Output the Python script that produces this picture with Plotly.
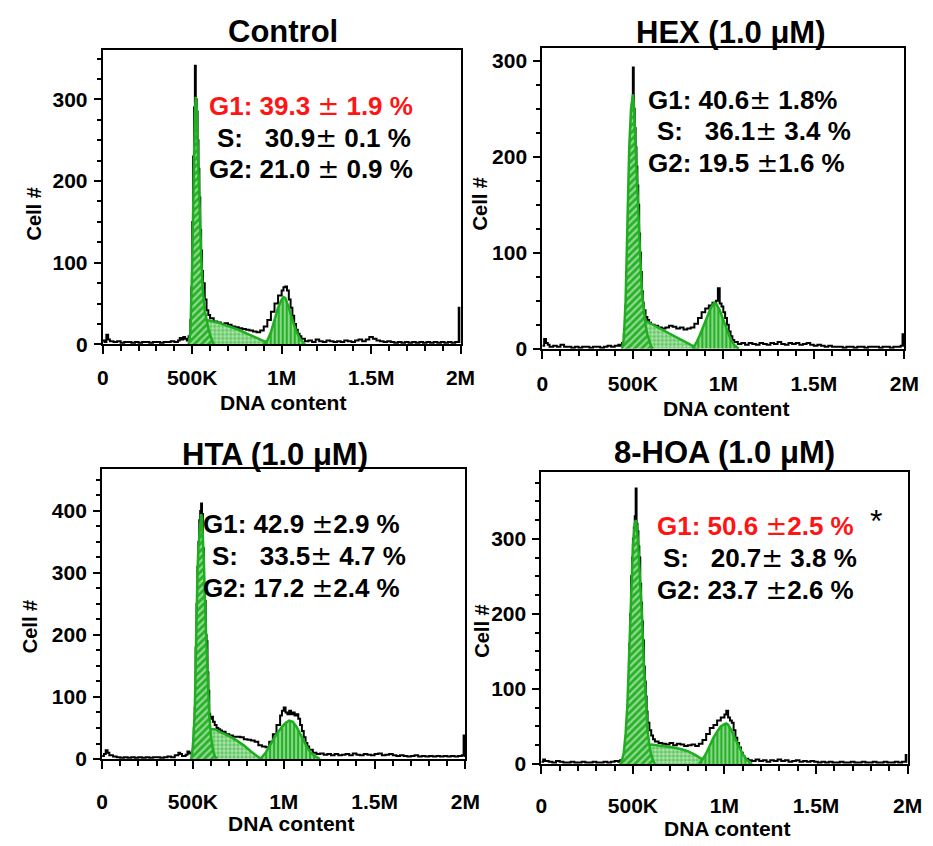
import plotly.graph_objects as go

GREEN = "#1fae1f"
RED = "#ff1414"
FONT = "Liberation Sans, Arial, sans-serif"

# ---------------- data (x in K units of DNA content, y = cell count) ----------------
tick_vals = [0, 500, 1000, 1500, 2000]
tick_text = ["0", "500K", "1M", "1.5M", "2M"]

titles = ["Control", "HEX (1.0 μM)", "HTA (1.0 μM)", "8-HOA (1.0 μM)"]

# Control histogram
ctrl_x = [
    0, 10, 20, 30, 40, 60, 80, 100, 120, 140,
    160, 180, 200, 220, 240, 260, 280, 300, 320, 340,
    360, 380, 400, 420, 430, 440, 450, 460, 470, 480,
    490, 495, 500, 505, 510, 515, 520, 525, 530, 535,
    540, 545, 550, 555, 560, 570, 580, 590, 600, 620,
    640, 660, 680, 700, 720, 740, 760, 780, 800, 820,
    840, 860, 880, 900, 920, 940, 960, 980, 1000, 1010,
    1020, 1030, 1040, 1050, 1060, 1070, 1080, 1090, 1100, 1110,
    1130, 1150, 1170, 1190, 1210, 1230, 1250, 1270, 1290, 1310,
    1330, 1350, 1370, 1390, 1410, 1430, 1450, 1470, 1490, 1510,
    1530, 1550, 1570, 1590, 1610, 1630, 1650, 1670, 1690, 1710,
    1730, 1750, 1770, 1790, 1810, 1830, 1850, 1870, 1890, 1910,
    1930, 1950, 1970, 1985, 1990, 1995, 2000]
ctrl_y = [
    5, 3, 12, 6, 4, 3, 4, 2, 3, 3,
    2, 3, 2, 3, 3, 2, 3, 3, 2, 3,
    3, 4, 3, 5, 8, 6, 9, 7, 5, 10,
    30, 70, 150, 230, 290, 341, 300, 285, 250, 215,
    180, 140, 115, 90, 75, 55, 42, 36, 32, 28,
    27, 25, 26, 24, 22, 21, 20, 19, 18, 17,
    16, 15, 17, 22, 30, 40, 50, 60, 66, 70,
    71, 66, 55, 45, 35, 25, 18, 13, 10, 7,
    4, 5, 3, 6, 4, 3, 5, 4, 3, 4,
    3, 5, 4, 3, 5, 6, 4, 6, 9, 7,
    5, 4, 3, 4, 3, 2, 3, 2, 3, 2,
    3, 2, 3, 2, 3, 2, 3, 2, 3, 2,
    3, 2, 3, 3, 45, 3, 3]
ctrl_g1_x = [480, 490, 500, 505, 510, 515, 520, 525, 530, 535, 540, 545, 550, 555, 560, 570, 580, 590, 600, 610, 620]
ctrl_g1_y = [0, 15, 100, 170, 240, 285, 303, 290, 250, 210, 175, 140, 110, 85, 65, 42, 30, 20, 12, 6, 0]
ctrl_s_x = [500, 520, 540, 560, 580, 600, 640, 680, 720, 760, 800, 840, 880, 920, 940]
ctrl_s_y = [0, 10, 22, 28, 30, 29, 27, 24, 21, 18, 14, 10, 6, 2, 0]
ctrl_g2_x = [900, 920, 940, 960, 980, 1000, 1010, 1020, 1040, 1060, 1080, 1100, 1120, 1130]
ctrl_g2_y = [0, 5, 15, 30, 45, 55, 58, 57, 45, 30, 17, 8, 3, 0]

# HEX histogram
hex_x = [
    0, 10, 20, 30, 40, 60, 80, 100, 120, 140,
    160, 180, 200, 220, 240, 260, 280, 300, 320, 340,
    360, 380, 400, 420, 430, 440, 450, 460, 465, 470,
    475, 480, 485, 490, 495, 500, 505, 510, 515, 520,
    525, 530, 535, 540, 545, 550, 555, 560, 570, 580,
    590, 600, 620, 640, 660, 680, 700, 720, 740, 760,
    780, 800, 820, 840, 860, 880, 900, 920, 940, 960,
    970, 980, 990, 1000, 1010, 1020, 1030, 1040, 1050, 1060,
    1080, 1100, 1120, 1140, 1160, 1180, 1200, 1220, 1240, 1260,
    1280, 1300, 1320, 1340, 1360, 1380, 1400, 1420, 1440, 1460,
    1480, 1500, 1520, 1540, 1560, 1580, 1600, 1620, 1640, 1660,
    1680, 1700, 1720, 1740, 1760, 1780, 1800, 1820, 1840, 1860,
    1880, 1900, 1920, 1940, 1960, 1980, 1990, 1995, 2000]
hex_y = [
    3, 10, 6, 4, 2, 3, 2, 4, 2, 2,
    1, 2, 1, 2, 2, 1, 2, 2, 1, 2,
    3, 2, 3, 4, 3, 6, 15, 45, 80, 115,
    140, 180, 220, 245, 255, 293, 250, 230, 210, 190,
    170, 150, 120, 100, 80, 60, 48, 40, 33, 30,
    27, 25, 24, 22, 21, 22, 24, 23, 21, 22,
    20, 21, 22, 26, 32, 38, 42, 45, 48, 50,
    63, 47, 44, 38, 32, 25, 18, 13, 9, 7,
    5, 6, 4, 6, 5, 4, 6, 5, 4, 6,
    5, 7, 5, 4, 6, 5, 6, 4, 5, 6,
    4, 3, 4, 3, 2, 3, 2, 2, 2, 1,
    2, 2, 1, 2, 2, 1, 2, 2, 2, 1,
    2, 2, 1, 2, 2, 3, 15, 3, 3]
hex_g1_x = [440, 450, 460, 470, 480, 490, 495, 500, 505, 510, 520, 530, 540, 550, 560, 570, 580, 590, 600, 610]
hex_g1_y = [0, 10, 50, 130, 210, 250, 262, 265, 255, 230, 185, 150, 100, 60, 38, 25, 15, 8, 3, 0]
hex_s_x = [460, 480, 500, 520, 540, 560, 580, 600, 640, 680, 720, 760, 800, 840, 860]
hex_s_y = [0, 8, 15, 22, 26, 28, 28, 26, 22, 18, 14, 10, 6, 2, 0]
hex_g2_x = [830, 850, 870, 890, 910, 930, 950, 960, 980, 1000, 1020, 1040, 1060, 1085]
hex_g2_y = [0, 6, 14, 24, 34, 42, 48, 47, 40, 30, 19, 10, 4, 0]

# HTA histogram
hta_x = [
    0, 10, 20, 30, 40, 60, 80, 100, 120, 140,
    160, 180, 200, 220, 240, 260, 280, 300, 320, 340,
    360, 380, 400, 420, 430, 440, 460, 470, 480, 490,
    500, 505, 510, 515, 520, 525, 530, 535, 540, 545,
    550, 555, 560, 565, 570, 575, 580, 585, 590, 595,
    600, 610, 620, 630, 640, 650, 660, 680, 700, 720,
    740, 760, 780, 800, 820, 840, 860, 880, 900, 920,
    940, 960, 980, 990, 1000, 1010, 1020, 1030, 1040, 1050,
    1060, 1070, 1080, 1090, 1100, 1110, 1120, 1130, 1140, 1160,
    1180, 1200, 1220, 1240, 1260, 1280, 1300, 1320, 1340, 1360,
    1380, 1400, 1420, 1440, 1460, 1480, 1500, 1520, 1540, 1560,
    1580, 1600, 1620, 1640, 1660, 1680, 1700, 1720, 1740, 1760,
    1780, 1800, 1820, 1840, 1860, 1880, 1900, 1920, 1940, 1960,
    1980, 1990, 1995, 2000]
hta_y = [
    5, 8, 14, 10, 6, 4, 3, 2, 3, 2,
    3, 2, 3, 2, 3, 2, 3, 3, 2, 3,
    4, 3, 6, 10, 8, 5, 7, 12, 9, 10,
    25, 50, 83, 180, 250, 310, 350, 385, 400, 412,
    395, 340, 280, 255, 200, 190, 140, 110, 73, 65,
    68, 60, 55, 50, 48, 46, 44, 40, 38, 36,
    36, 35, 32, 31, 30, 28, 22, 20, 19, 28,
    40, 55, 70, 78, 83, 75, 72, 78, 72, 75,
    70, 72, 65, 55, 45, 35, 26, 20, 15, 10,
    8, 9, 7, 8, 6, 8, 6, 7, 8, 6,
    9, 7, 6, 8, 7, 6, 8, 9, 6, 7,
    8, 6, 5, 6, 5, 4, 5, 6, 4, 5,
    4, 5, 4, 5, 4, 5, 4, 5, 4, 5,
    6, 38, 5, 5]
hta_g1_x = [490, 500, 510, 515, 520, 525, 530, 540, 545, 550, 560, 570, 580, 590, 600, 610, 620, 630]
hta_g1_y = [0, 20, 75, 160, 250, 300, 340, 385, 395, 390, 320, 220, 130, 70, 35, 15, 5, 0]
hta_s_x = [500, 530, 560, 590, 620, 660, 700, 740, 780, 820, 850, 875]
hta_s_y = [0, 20, 40, 48, 48, 42, 37, 30, 22, 12, 5, 0]
hta_g2_x = [870, 900, 930, 960, 990, 1010, 1030, 1050, 1070, 1090, 1110, 1130, 1150, 1170, 1200]
hta_g2_y = [0, 10, 25, 40, 52, 58, 62, 60, 52, 40, 28, 18, 10, 5, 0]

# 8-HOA histogram
hoa_x = [
    0, 10, 20, 40, 60, 80, 100, 120, 140, 160,
    180, 200, 220, 240, 260, 280, 300, 320, 340, 360,
    380, 400, 420, 430, 440, 450, 460, 465, 470, 475,
    480, 485, 490, 495, 500, 505, 510, 515, 520, 525,
    530, 535, 540, 545, 550, 555, 560, 565, 570, 575,
    580, 590, 600, 610, 620, 640, 660, 680, 700, 720,
    740, 760, 780, 800, 820, 840, 860, 880, 900, 920,
    940, 960, 980, 1000, 1010, 1020, 1030, 1040, 1050, 1060,
    1070, 1080, 1090, 1100, 1110, 1130, 1150, 1170, 1190, 1210,
    1230, 1250, 1270, 1290, 1310, 1330, 1350, 1370, 1390, 1410,
    1430, 1450, 1470, 1490, 1510, 1530, 1550, 1570, 1590, 1610,
    1630, 1650, 1670, 1690, 1710, 1730, 1750, 1770, 1790, 1810,
    1830, 1850, 1870, 1890, 1910, 1930, 1950, 1970, 1985, 1990,
    1995, 2000]
hoa_y = [
    3, 6, 4, 3, 2, 4, 3, 2, 2, 3,
    2, 2, 3, 2, 2, 3, 2, 2, 3, 2,
    3, 4, 3, 5, 4, 8, 20, 40, 60, 110,
    160, 200, 250, 275, 300, 315, 330, 367, 320, 310,
    290, 275, 240, 215, 190, 165, 130, 110, 90, 70,
    55, 45, 38, 33, 30, 28, 27, 26, 28, 25,
    27, 26, 24, 25, 26, 24, 27, 32, 40, 48,
    52, 58, 62, 66, 71, 62, 58, 55, 45, 35,
    28, 22, 15, 10, 7, 5, 4, 6, 4, 5,
    3, 5, 4, 6, 4, 5, 3, 4, 5, 3,
    4, 3, 4, 3, 2, 3, 2, 3, 2, 2,
    3, 2, 2, 3, 2, 2, 3, 2, 2, 3,
    2, 2, 3, 2, 2, 3, 2, 3, 3, 12,
    3, 3]
hoa_g1_x = [430, 440, 450, 460, 470, 480, 490, 500, 510, 515, 520, 530, 540, 550, 560, 570, 580, 590, 600, 610, 620]
hoa_g1_y = [0, 5, 15, 40, 80, 160, 240, 290, 320, 325, 320, 290, 240, 195, 130, 80, 45, 25, 12, 5, 0]
hoa_s_x = [520, 540, 560, 580, 600, 640, 680, 720, 760, 800, 840, 870, 900, 910]
hoa_s_y = [0, 8, 18, 24, 26, 25, 23, 22, 20, 17, 12, 8, 3, 0]
hoa_g2_x = [860, 880, 900, 920, 940, 960, 980, 1000, 1010, 1020, 1040, 1060, 1080, 1100, 1120, 1150]
hoa_g2_y = [0, 6, 14, 25, 35, 43, 50, 53, 54, 52, 44, 33, 22, 13, 6, 0]

# phase percentages (mean, sd)
g1_text = ["39.3 ± 1.9 %", "40.6± 1.8%", "42.9 ±2.9 %", "50.6 ±2.5 %"]
s_text = ["30.9± 0.1 %", "36.1± 3.4 %", "33.5± 4.7 %", "20.7± 3.8 %"]
g2_text = ["21.0 ± 0.9 %", "19.5 ±1.6 %", "17.2 ±2.4 %", "23.7 ±2.6 %"]
y_max = [360, 313, 468, 389]
y_ticks = [[0, 100, 200, 300], [0, 100, 200, 300], [0, 100, 200, 300, 400], [0, 100, 200, 300]]

hists = [(ctrl_x, ctrl_y), (hex_x, hex_y), (hta_x, hta_y), (hoa_x, hoa_y)]
g1s = [(ctrl_g1_x, ctrl_g1_y), (hex_g1_x, hex_g1_y), (hta_g1_x, hta_g1_y), (hoa_g1_x, hoa_g1_y)]
ss = [(ctrl_s_x, ctrl_s_y), (hex_s_x, hex_s_y), (hta_s_x, hta_s_y), (hoa_s_x, hoa_s_y)]
g2s = [(ctrl_g2_x, ctrl_g2_y), (hex_g2_x, hex_g2_y), (hta_g2_x, hta_g2_y), (hoa_g2_x, hoa_g2_y)]

# ---------------- layout geometry (pixels in a 933x846 canvas) ----------------
W, H = 933, 846
# plot-area boxes: left, right, top, bottom
boxes = [(99, 465, 51, 349), (548.7, 919, 49, 353.3), (98.3, 470, 475, 769), (547.7, 922.3, 478.3, 774)]
title_pos = [(283, 32), (742, 33), (275, 460), (735, 458)]
xtitle_pos = [(283, 408), (737, 414), (292, 834), (738, 839)]
ytitle_pos = [(29, 217), (485, 207), (24, 635), (487, 640)]
g1_pos = [(206, 107), (655, 101), (200, 531), (664, 533)]
s_pos = [(214, 140), (664, 133), (209, 563), (670, 565)]
g2_pos = [(206, 171), (655, 165), (200, 596), (664, 598)]
red_g1 = [True, False, False, True]
xlab_standoff = [5, 7, 15, 14]

# pattern styles: (shape, fg, bg, size, solidity) for S, G1, G2
pat_s = (".", "white", "#5cc65c", 4, 0.55)
pat_g1 = ("/", "white", "#26b226", 5, 0.45)
pat_g2 = ("|", "white", "#26b226", 4, 0.45)


def px(x):
    return x / W


def py(y):
    return 1 - y / H


def pm(t):
    t = t.replace(" ", "\u00a0")
    return t.replace("±", "<span style='font-family:DejaVu Sans;font-weight:normal'>±</span>")


fig = go.Figure()
annotations = []
layout = {}

for i in range(4):
    k = "" if i == 0 else str(i + 1)
    xa, ya = "x" + k, "y" + k
    hx, hy = hists[i]
    fig.add_trace(go.Scatter(x=hx, y=hy, mode="lines", line=dict(color="black", width=2.0, shape="hv"),
                             xaxis=xa, yaxis=ya, showlegend=False, hoverinfo="skip"))
    for (cx, cy), pat in [(ss[i], pat_s), (g1s[i], pat_g1), (g2s[i], pat_g2)]:
        shape, fg, bg, sz, sol = pat
        fig.add_trace(go.Scatter(x=cx, y=cy, mode="lines", fill="tozeroy",
                                 line=dict(color=GREEN, width=2.5),
                                 fillcolor=bg,
                                 fillpattern=dict(shape=shape, fgcolor=fg, bgcolor=bg, size=sz, solidity=sol),
                                 xaxis=xa, yaxis=ya, showlegend=False, hoverinfo="skip"))
    l, r, t, b = boxes[i]
    common = dict(showline=True, linecolor="black", linewidth=2, mirror=True, ticks="outside",
                  tickcolor="black", tickwidth=2, showgrid=False, zeroline=False,
                  tickfont=dict(family=FONT, size=21, color="black", weight="bold"))
    layout["xaxis" + k] = dict(domain=[px(l), px(r)], range=[0, 2000], anchor=ya,
                               tickvals=tick_vals, ticktext=tick_text, ticklen=8,
                               ticklabelstandoff=xlab_standoff[i],
                               minor=dict(ticks="outside", dtick=100, ticklen=5, tickwidth=1.5, tickcolor="black"),
                               **common)
    layout["yaxis" + k] = dict(domain=[py(b), py(t)], range=[0, y_max[i]], anchor=xa,
                               tickvals=y_ticks[i], ticklen=7, ticklabelstandoff=2,
                               minor=dict(ticks="outside", dtick=25, ticklen=4, tickwidth=1.5, tickcolor="black"),
                               **common)
    annotations.append(dict(text=titles[i], x=px(title_pos[i][0]), y=py(title_pos[i][1]), xref="paper", yref="paper",
                            showarrow=False, xanchor="center", yanchor="middle",
                            font=dict(family=FONT, size=31, color="black", weight="bold")))
    annotations.append(dict(text="DNA content", x=px(xtitle_pos[i][0]), y=py(xtitle_pos[i][1]), xref="paper",
                            yref="paper", showarrow=False, xanchor="center", yanchor="middle",
                            font=dict(family=FONT, size=21, color="black", weight="bold")))
    annotations.append(dict(text="Cell #", x=px(ytitle_pos[i][0]), y=py(ytitle_pos[i][1]), xref="paper",
                            yref="paper", showarrow=False, xanchor="center", yanchor="middle", textangle=-90,
                            font=dict(family=FONT, size=20, color="black", weight="bold")))
    for label, txt, pos, col in [("G1:", g1_text[i], g1_pos[i], RED if red_g1[i] else "black"),
                                 ("S:", "  " + s_text[i], s_pos[i], "black"),
                                 ("G2:", g2_text[i], g2_pos[i], "black")]:
        annotations.append(dict(text=pm(label + " " + txt), x=px(pos[0]), y=py(pos[1]), xref="paper", yref="paper",
                                showarrow=False, xanchor="left", yanchor="middle",
                                font=dict(family=FONT, size=26, color=col, weight="bold")))

annotations.append(dict(text="*", x=px(890), y=py(528), xref="paper", yref="paper", showarrow=False,
                        xanchor="center", yanchor="middle", font=dict(family=FONT, size=32, color="black")))

fig.update_layout(width=W, height=H, margin=dict(l=0, r=0, t=0, b=0), paper_bgcolor="white",
                  plot_bgcolor="white", annotations=annotations, **layout)

post = (
    "document.documentElement.style.margin='0px';"
    "document.body.setAttribute('style','margin:0px;padding:0px;overflow:hidden;');"
    "document.documentElement.style.overflow='hidden';"
)
fig.write_html("out.html", config={"displayModeBar": False}, post_script=post)
